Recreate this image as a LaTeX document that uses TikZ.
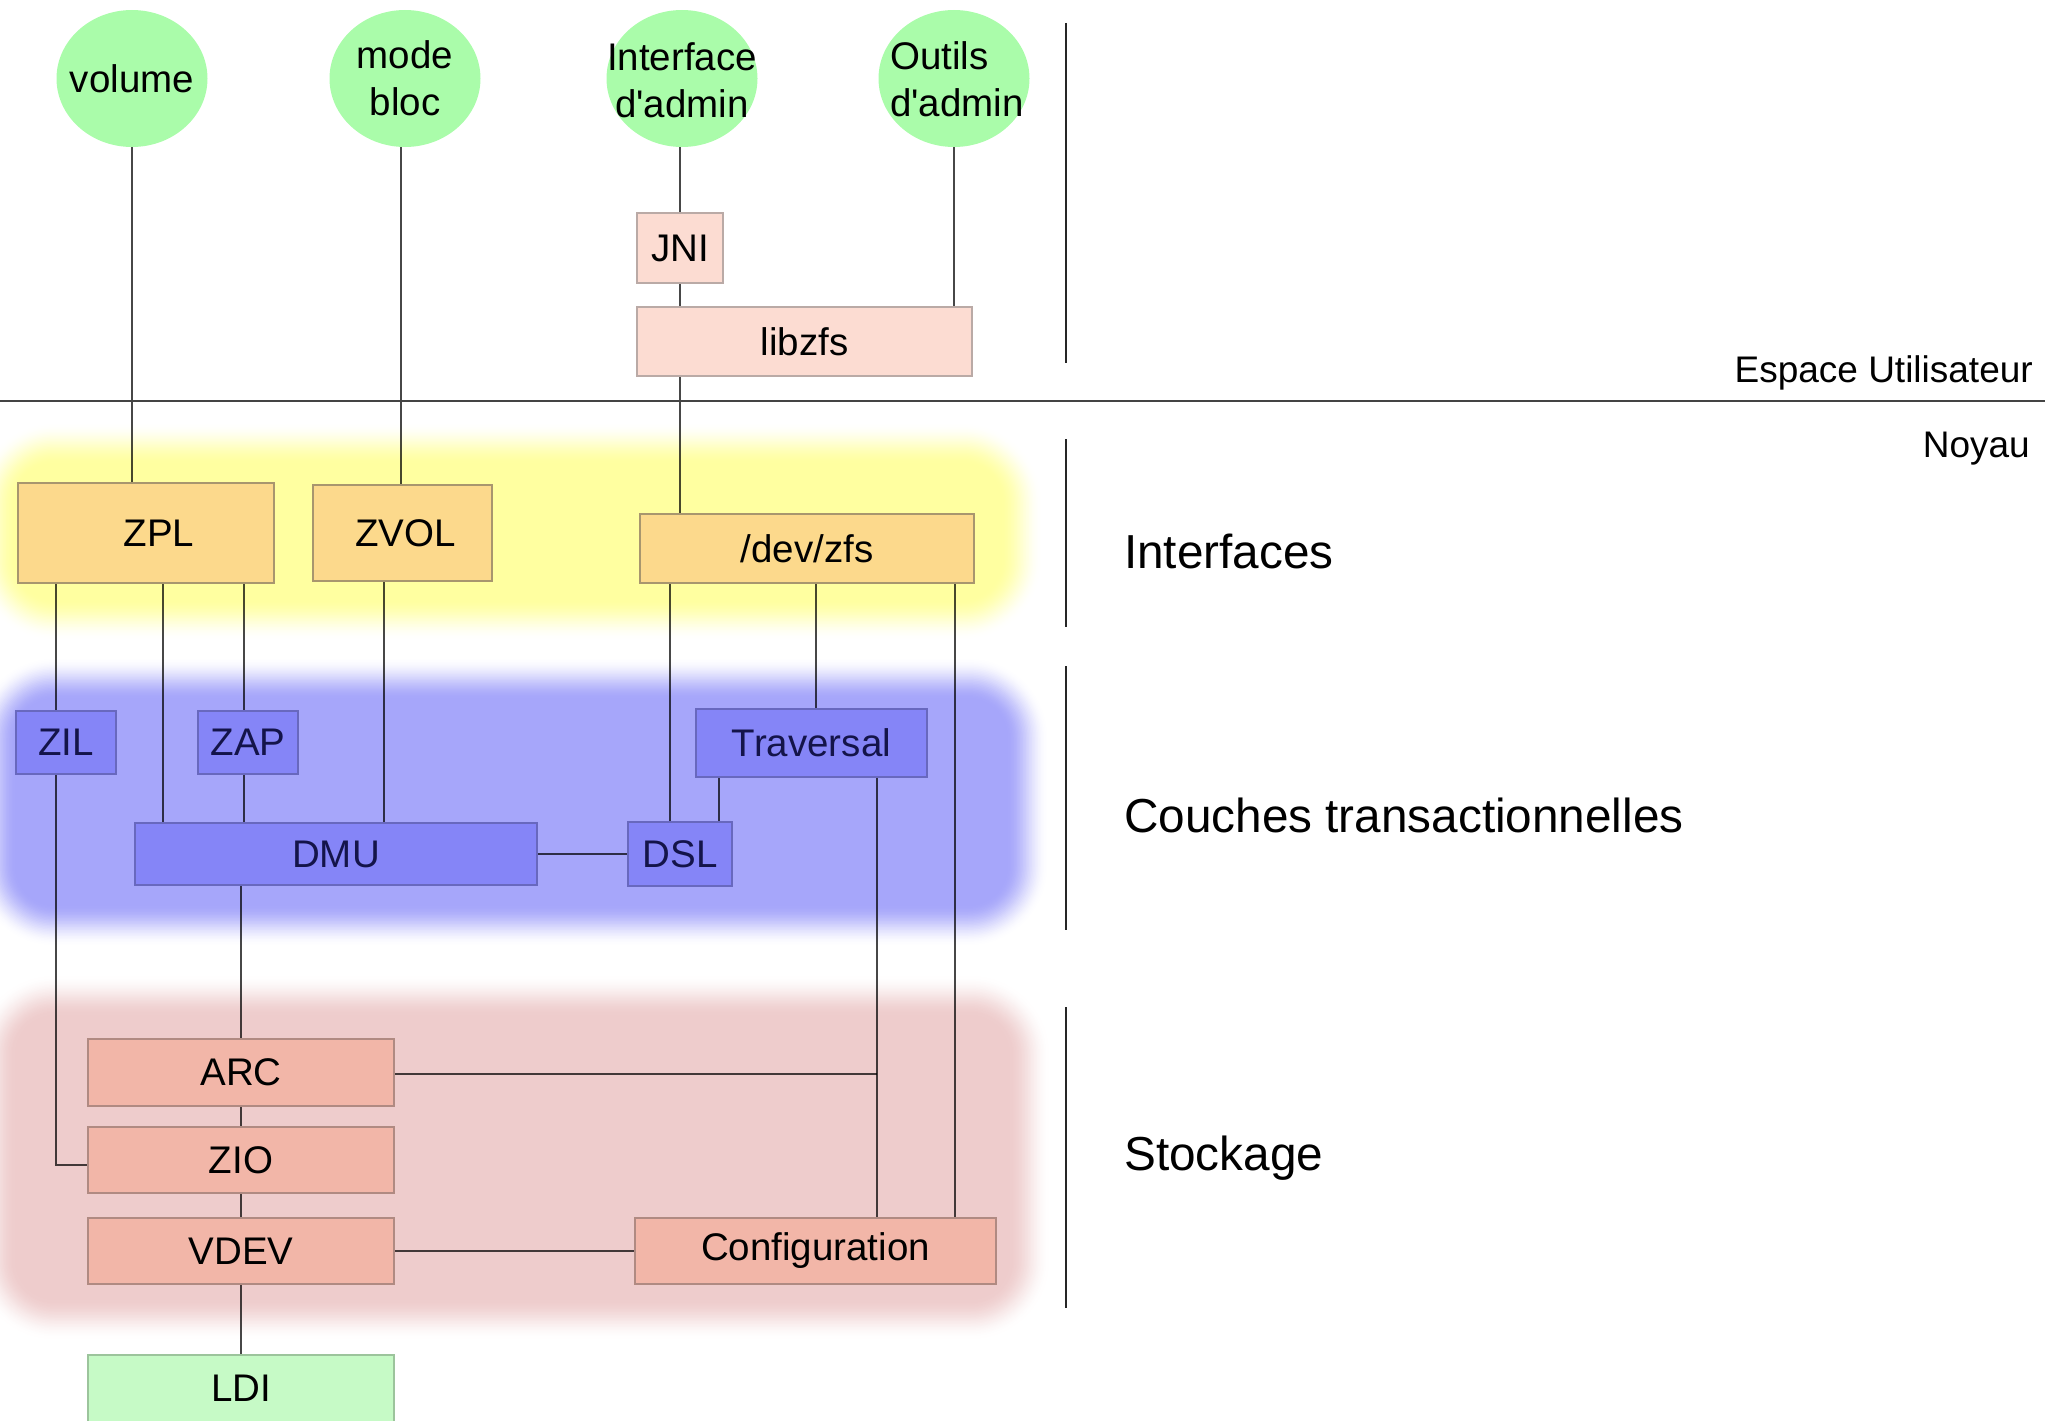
\documentclass[tikz,border=0pt]{standalone}
\usepackage{fontspec}
\setmainfont{Liberation Sans}[Ligatures=TeXOff]
\usetikzlibrary{shapes.geometric,calc}
\pgfdeclarelayer{bands}
\pgfdeclarelayer{links}
\pgfsetlayers{bands,links,main}

\definecolor{circgreen}{HTML}{AAFCAA}
\definecolor{bandyellow}{HTML}{FFFFA0}
\definecolor{bandblue}{HTML}{A6A6FA}
\definecolor{bandpink}{HTML}{EECCCC}
\definecolor{ifill}{HTML}{FCD98C}
\definecolor{idraw}{HTML}{A8966E}
\definecolor{tfill}{HTML}{8585F7}
\definecolor{tdraw}{HTML}{6868BE}
\definecolor{ttext}{HTML}{14144A}
\definecolor{sfill}{HTML}{F2B6A8}
\definecolor{sdraw}{HTML}{B08A82}
\definecolor{ufill}{HTML}{FCDCD2}
\definecolor{udraw}{HTML}{BAAAA6}
\definecolor{lfill}{HTML}{C6FAC6}
\definecolor{ldraw}{HTML}{9CC49C}
\definecolor{rule}{HTML}{444444}

% soft-edged rounded band: colour, x1, y1, x2, y2
\newcommand\softband[5]{%
  \foreach \bi in {0,...,27}{%
    \pgfmathsetmacro\bt{(\bi+0.5)/28}%
    \pgfmathsetmacro\bd{21-42*\bt}%
    \pgfmathsetmacro\bp{100*\bt*\bt*(3-2*\bt)}%
    \pgfmathsetmacro\br{60+\bd}%
    \pgfmathsetmacro\xa{#2-(\bd)}%
    \pgfmathsetmacro\ya{#3-(\bd)}%
    \pgfmathsetmacro\xb{#4+(\bd)}%
    \pgfmathsetmacro\yb{#5+(\bd)}%
    \fill[#1!\bp!white, rounded corners=\br pt] (\xa,\ya) rectangle (\xb,\yb);
  }%
}

\begin{document}
\begin{tikzpicture}[x=1pt,y=-1pt,
  lbl/.style={font=\fontsize{38.5}{47}\selectfont, inner sep=0},
  circ/.style={ellipse, fill=circgreen, minimum width=151, minimum height=137, inner sep=0},
  ibox/.style={lbl, draw=idraw, fill=ifill, line width=2pt},
  tbox/.style={lbl, draw=tdraw, fill=tfill, line width=2pt, text=ttext},
  sbox/.style={lbl, draw=sdraw, fill=sfill, line width=2pt},
  ubox/.style={lbl, draw=udraw, fill=ufill, line width=2pt},
  lbox/.style={lbl, draw=ldraw, fill=lfill, line width=2pt},
  link/.style={draw=black, draw opacity=0.72, line width=1.7pt},
  divider/.style={draw=black!85, line width=1.5pt},
  sidelbl/.style={font=\fontsize{47.7}{57}\selectfont, inner sep=0},
  toplbl/.style={font=\fontsize{37}{44}\selectfont, inner sep=0}]
\useasboundingbox (0,0) rectangle (2045,1421);

% layer bands
\begin{pgfonlayer}{bands}
  \softband{bandyellow}{-5}{443}{1022}{620}
  \softband{bandblue}{-5}{678}{1028}{926}
  \softband{bandpink}{-5}{995}{1030}{1320}
\end{pgfonlayer}

% user-space entry points
\node[circ] (vol) at (132,78.5) {};
\node[lbl] (volT) at (vol) {volume};
\node[circ] (mode) at (405,78.5) {};
\node[lbl, align=center] (modeT) at (mode) {mode\\bloc};
\node[circ] (iface) at (682,78.5) {};
\node[lbl, align=center] (ifaceT) at ([yshift=-2pt]iface.center) {Interface\\d'admin};
\node[circ] (outils) at (954,78.5) {};
\node[lbl, align=left] (outilsT) at ([xshift=3pt,yshift=-1pt]outils.center) {Outils\\d'admin};

\node[ubox, minimum width=86, minimum height=70] (jni) at (680,248) {JNI};
\node[ubox, minimum width=335, minimum height=69] (libzfs) at (804.5,341.5) {libzfs};

% interfaces
\node[ibox, minimum width=256, minimum height=100] (zpl) at (146,533) {\hspace{26pt}ZPL};
\node[ibox, minimum width=179, minimum height=96] (zvol) at (402.5,533) {\hspace{6pt}ZVOL};
\node[ibox, minimum width=334, minimum height=69] (devzfs) at (807,548.5) {/dev/zfs};

% transactional layers
\node[tbox, minimum width=100, minimum height=63] (zil) at (66,742.5) {ZIL};
\node[tbox, minimum width=100, minimum height=63] (zap) at (248,742.5) {ZAP};
\node[tbox, minimum width=231, minimum height=68] (trav) at (811.5,743) {Traversal};
\node[tbox, minimum width=402, minimum height=62] (dmu) at (336,854) {DMU};
\node[tbox, minimum width=104, minimum height=64] (dsl) at (680,854) {DSL};

% storage
\node[sbox, minimum width=306, minimum height=67] (arc) at (241,1072.5) {ARC};
\node[sbox, minimum width=306, minimum height=66] (zio) at (241,1160) {ZIO};
\node[sbox, minimum width=306, minimum height=66] (vdev) at (241,1251) {VDEV};
\node[sbox, minimum width=361, minimum height=66] (config) at (815.5,1251) {Configuration};
\node[lbox, minimum width=306, minimum height=67] (ldi) at (241,1388.5) {LDI};

\coordinate (cfgin) at ([xshift=61.5pt]config.north);
\coordinate (cfgout) at ([xshift=139.5pt]config.north);

\begin{pgfonlayer}{links}
  \draw[link] (vol.south) -- (vol.south |- zpl.north);
  \draw[link] ([xshift=-4pt]mode.south) -- ([xshift=-4pt]mode.south |- zvol.north);
  \draw[link] (jni.north |- iface.south) -- (jni.north);
  \draw[link] (jni.south) -- (jni.south |- libzfs.north);
  \draw[link] (outils.south) -- (outils.south |- libzfs.north);
  \draw[link] (jni.south |- libzfs.south) -- (jni.south |- devzfs.north);

  \draw[link] ([xshift=-10pt]zil.north |- zpl.south) -- ([xshift=-10pt]zil.north);
  \draw[link] ([xshift=17pt]zpl.south) -- ([xshift=17pt]zpl.south |- dmu.north);
  \draw[link] ([xshift=-4pt]zap.north |- zpl.south) -- ([xshift=-4pt]zap.north);
  \draw[link] ([xshift=-4pt]zap.south) -- ([xshift=-4pt]zap.south |- dmu.north);
  \draw[link] ([xshift=-18.5pt]zvol.south) -- ([xshift=-18.5pt]zvol.south |- dmu.north);
  \draw[link] ([xshift=-10pt]dsl.north |- devzfs.south) -- ([xshift=-10pt]dsl.north);
  \draw[link] ([xshift=4.5pt]trav.north |- devzfs.south) -- ([xshift=4.5pt]trav.north);
  \draw[link] (cfgout |- devzfs.south) -- (cfgout);
  \draw[link] ([xshift=39pt]dsl.north |- trav.south) -- ([xshift=39pt]dsl.north);
  \draw[link] (cfgin |- trav.south) -- (cfgin);
  \draw[link] (dmu.east) -- (dsl.west);

  \draw[link] (arc.north |- dmu.south) -- (arc.north);
  \draw[link] ([yshift=-1.5pt]arc.east) -- ([yshift=-1.5pt]arc.east -| cfgin);
  \draw[link] (arc.south) -- (zio.north);
  \draw[link] (zio.south) -- (vdev.north);
  \draw[link] (vdev.south) -- (ldi.north);
  \draw[link] ([xshift=-10pt]zil.south) |- ([yshift=-5pt]zio.west);
  \draw[link] (vdev.east) -- (config.west);
\end{pgfonlayer}

% user / kernel boundary and layer separators
\draw[draw=rule, line width=2.5pt] (0,401) -- (2045,401);
\draw[divider] (1066,23) -- (1066,363);
\draw[divider] (1066,439) -- (1066,627);
\draw[divider] (1066,666) -- (1066,930);
\draw[divider] (1066,1007) -- (1066,1308);

\node[toplbl, anchor=base east] (lusr) at (2033,382) {Espace Utilisateur};
\node[toplbl, anchor=base east] (lnoy) at (2030,457) {Noyau};
\node[sidelbl, anchor=base west] (lint) at (1124,568) {Interfaces};
\node[sidelbl, anchor=base west] (lcouch) at (1124,832) {Couches transactionnelles};
\node[sidelbl, anchor=base west] (lstock) at (1124,1170) {Stockage};
\end{tikzpicture}
\end{document}
